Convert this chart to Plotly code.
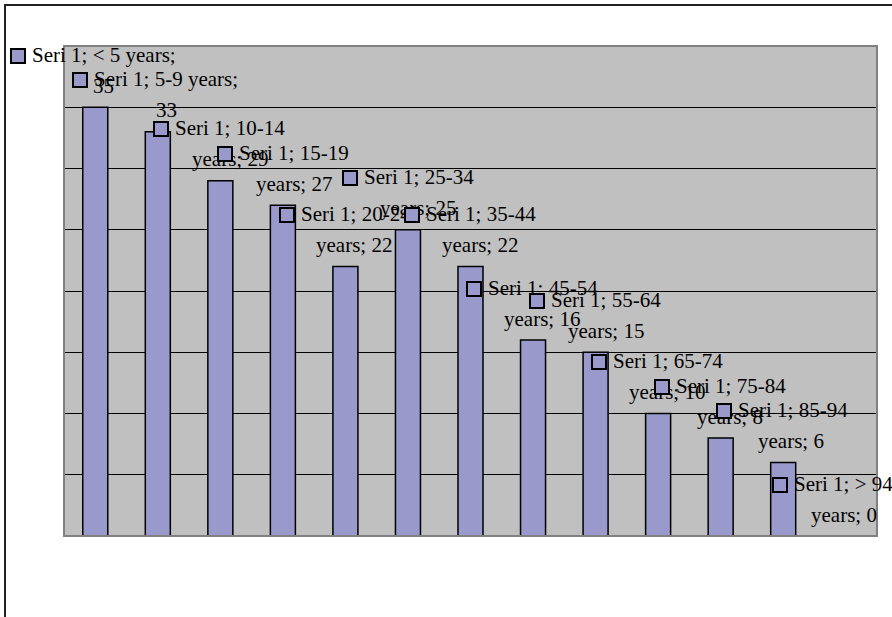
import plotly.graph_objects as go

# Population counts per age group (series "Seri 1")
series_name = "Seri 1"
age_groups = ["< 5", "5-9", "10-14", "15-19", "20-24", "25-34", "35-44",
              "45-54", "55-64", "65-74", "75-84", "85-94", "> 94"]
values = [35, 33, 29, 27, 22, 25, 22, 16, 15, 10, 8, 6, 0]

categories = [f"{a} years" for a in age_groups]

# Label layout: where each two-line data label wraps, and pixel offsets
wrap_after_years = [True, True] + [False] * 11
key_dx = [-77, -78, -59, -58, -58.5, -58, -59, -59, -58.6, -59, -58.7, -58.7, -66]
line2_dx = [8, 9, 10, 11, 9, 10, 9, 9, 10, 9, 9, 8, -2]
LINE1_DY = 51.5
LINE2_DY = 21.5

BAR_FILL = "rgb(153,153,204)"
PLOT_BG = "#C0C0C0"
FONT = dict(family="Liberation Serif, Times New Roman, serif", size=21, color="black")

L, R, T, B = 64, 15, 46, 81
W, H = 892, 617
plot_w = W - L - R
plot_h = H - T - B

fig = go.Figure()
fig.add_trace(go.Bar(
    x=categories, y=values,
    marker=dict(color=BAR_FILL,
                line=dict(color="black", width=[1.5 if v > 0 else 0 for v in values])),
    hoverinfo="x+y",
    showlegend=False,
))

annotations = []
for cat, age, v, wrap, kdx, l2dx in zip(categories, age_groups, values,
                                         wrap_after_years, key_dx, line2_dx):
    if wrap:
        line1 = f"{series_name}; {age} years;"
        line2 = f"{v}"
    else:
        line1 = f"{series_name}; {age}"
        line2 = f"years; {v}"
    # legend key square drawn as an empty boxed annotation
    annotations.append(dict(
        x=cat, y=v, xref="x", yref="y", text=" ", showarrow=False,
        xanchor="center", yanchor="middle",
        xshift=kdx, yshift=LINE1_DY,
        width=12, height=12, borderpad=0, borderwidth=2,
        bgcolor=BAR_FILL, bordercolor="black",
        font=dict(size=4),
    ))
    annotations.append(dict(
        x=cat, y=v, xref="x", yref="y", text=line1, showarrow=False,
        xanchor="left", yanchor="middle",
        xshift=kdx + 12, yshift=LINE1_DY + 1, font=FONT,
    ))
    annotations.append(dict(
        x=cat, y=v, xref="x", yref="y", text=line2, showarrow=False,
        xanchor="center", yanchor="middle",
        xshift=l2dx, yshift=LINE2_DY, font=FONT,
    ))

shapes = [
    # plot-area border
    dict(type="rect", xref="paper", yref="paper", x0=0, x1=1, y0=0, y1=1,
         line=dict(color="#808080", width=2), layer="above"),
    # outer chart border (extends past the visible page on the right and bottom)
    dict(type="rect", xref="paper", yref="paper",
         x0=(5 - L) / plot_w, x1=2.0,
         y0=-2.0, y1=(H - B - 5) / plot_h,
         line=dict(color="#222222", width=2), layer="above"),
]

fig.update_layout(
    width=W, height=H,
    margin=dict(l=L, r=R, t=T, b=B, pad=0),
    paper_bgcolor="white",
    plot_bgcolor=PLOT_BG,
    bargap=0.6,
    shapes=shapes,
    annotations=annotations,
    xaxis=dict(type="category", range=[-0.5, len(categories) - 0.5],
               showgrid=False, showticklabels=False, ticks="", zeroline=False,
               showline=False, fixedrange=True),
    yaxis=dict(range=[0, 40], dtick=5, showgrid=True, gridcolor="black", gridwidth=1,
               showticklabels=False, ticks="", zeroline=False, showline=False,
               fixedrange=True),
)

fig.write_html("out.html")
